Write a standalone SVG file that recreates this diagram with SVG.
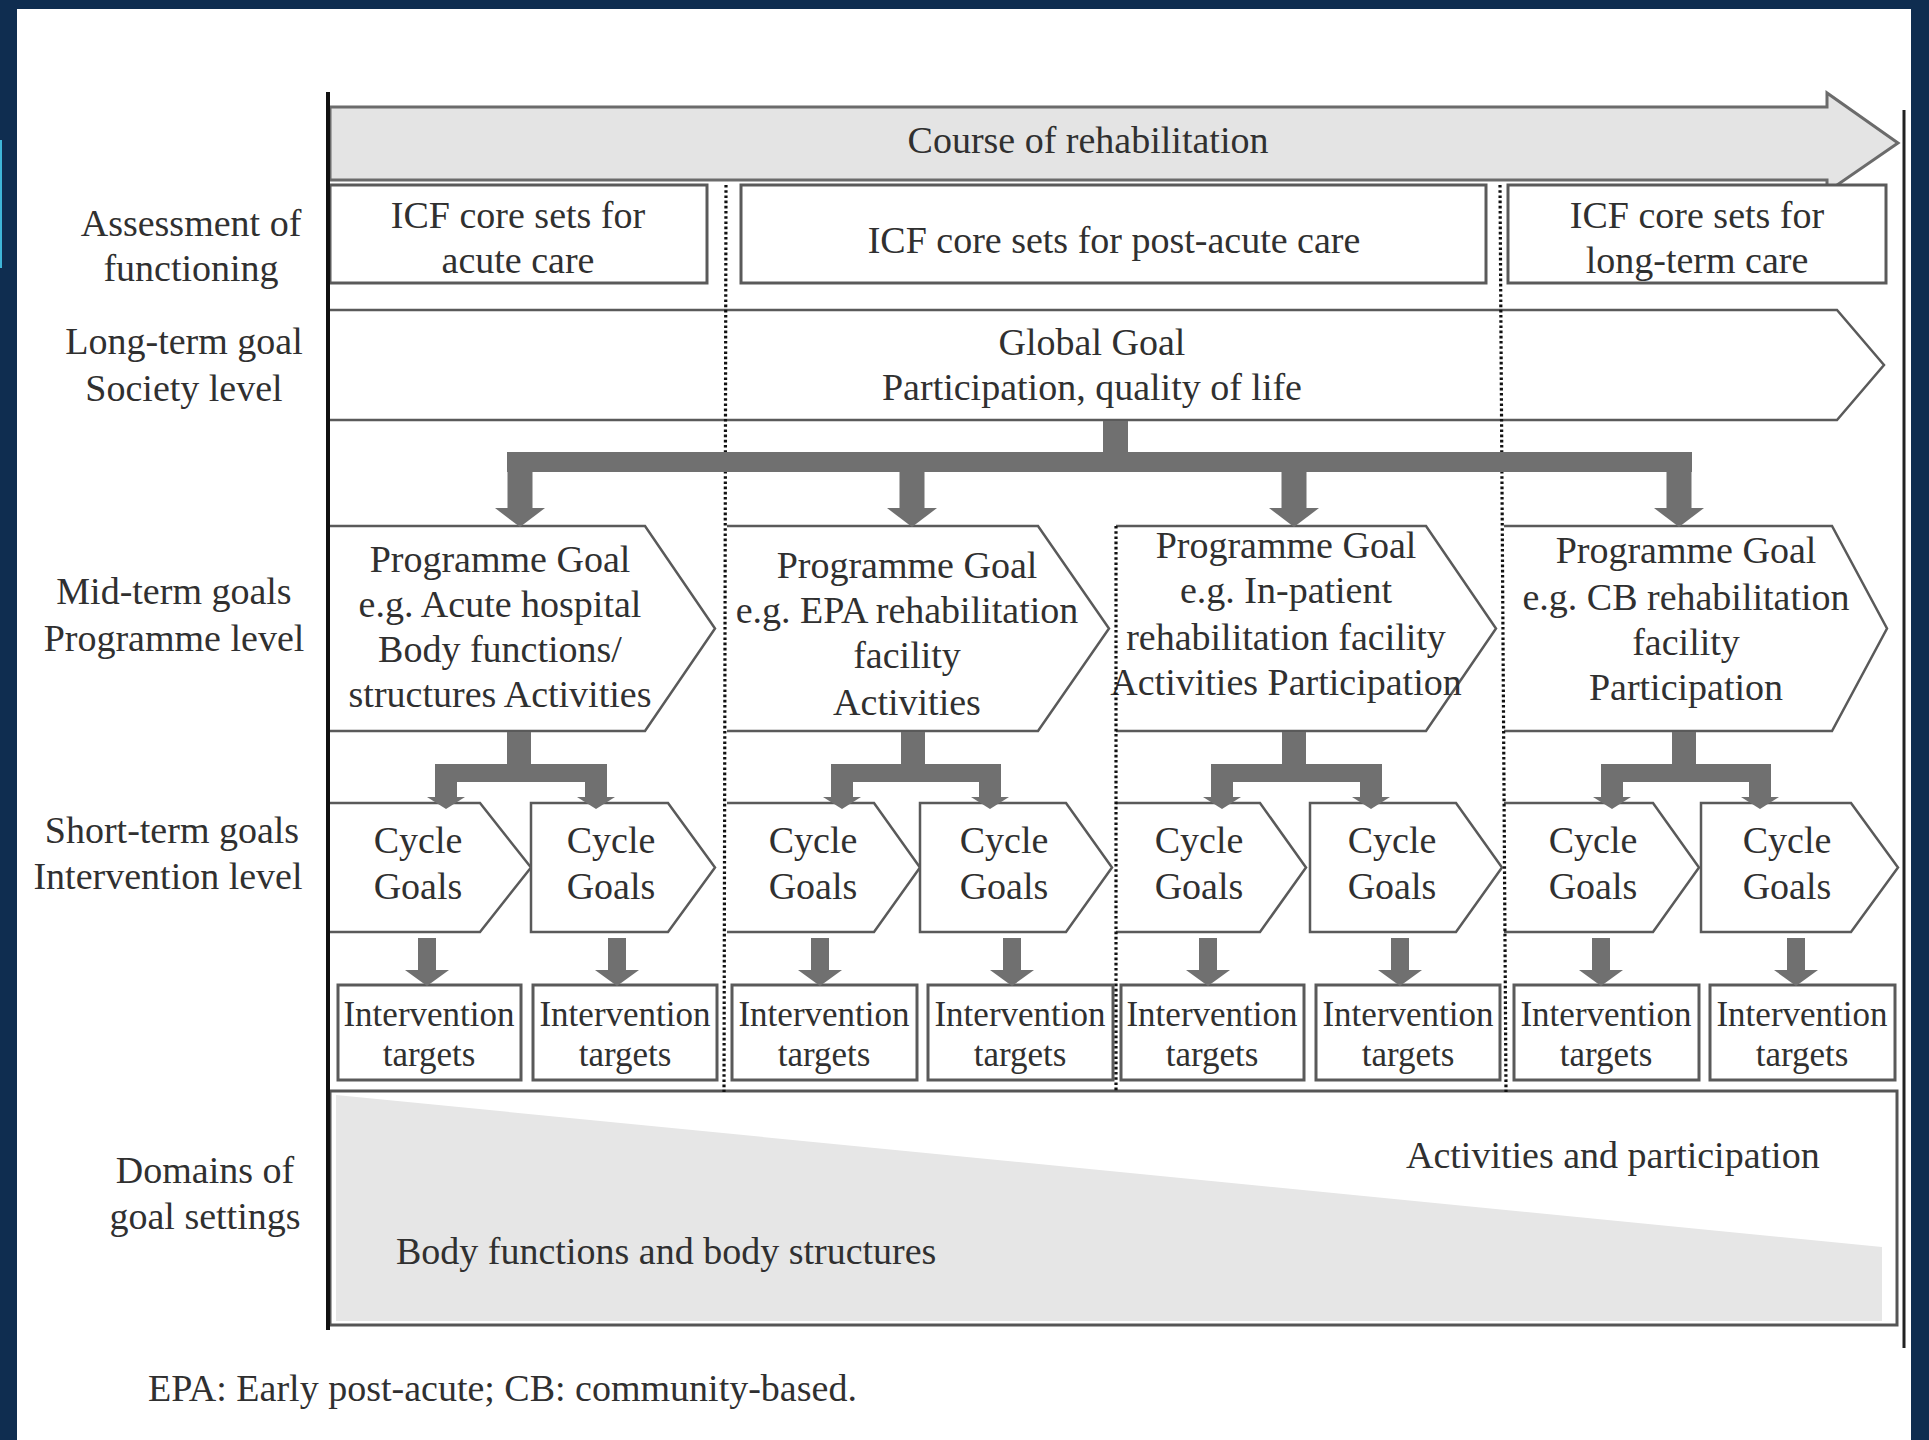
<svg xmlns="http://www.w3.org/2000/svg" width="1929" height="1440" viewBox="0 0 1929 1440">
<defs>
<style>
text { font-family: "Liberation Serif", "Times New Roman", serif; font-size: 38px; fill: #303030; }
.c { text-anchor: middle; }
.box { fill: #fff; stroke: #5a5a5a; stroke-width: 3; }
.open { fill: #fff; stroke: #5a5a5a; stroke-width: 2.5; stroke-linejoin: miter; }
.conn { fill: #707070; }
.dot { stroke: #111; stroke-width: 3.2; stroke-dasharray: 2.6 2.6; fill: none; }
.iv { font-size: 35px; }
</style>
</defs>
<rect x="0" y="0" width="1929" height="1440" fill="#0f2d50"/>
<rect x="17" y="9" width="1894" height="1431" fill="#ffffff"/>
<line x1="1" y1="140" x2="1" y2="268" stroke="#3fb6d8" stroke-width="2"/>

<g id="domains">
<polygon points="336,1095 1882,1247 1882,1321 336,1321" fill="#e6e6e6"/>
<rect x="330" y="1091" width="1567" height="234" fill="none" stroke="#555" stroke-width="3"/>
<text x="1406" y="1168">Activities and participation</text>
<text x="396" y="1264">Body functions and body structures</text>
</g>

<g id="course">
<polygon points="330,107 1827,107 1827,93 1898,143 1827,192 1827,180 330,180" fill="#e4e4e4" stroke="#6b6b6b" stroke-width="3"/>
<text class="c" x="1088" y="153">Course of rehabilitation</text>
</g>

<g id="icf-acute">
<rect class="box" x="330" y="185" width="377" height="98"/>
<text class="c" x="518" y="228">ICF core sets for</text>
<text class="c" x="518" y="273">acute care</text>
</g>
<g id="icf-postacute">
<rect class="box" x="741" y="185" width="745" height="98"/>
<text class="c" x="1114" y="253">ICF core sets for post-acute care</text>
</g>
<g id="icf-longterm">
<rect class="box" x="1508" y="185" width="378" height="98"/>
<text class="c" x="1697" y="228">ICF core sets for</text>
<text class="c" x="1697" y="273">long-term care</text>
</g>

<g id="global-goal">
<path class="open" d="M330,310 H1837 L1884,365 L1837,420 H330"/>
<text class="c" x="1092" y="355">Global Goal</text>
<text class="c" x="1092" y="400">Participation, quality of life</text>
</g>

<g id="pg1">
<path class="open" d="M330,526 H645 L715,628.5 L645,731 H330"/>
<text class="c" x="500" y="572">Programme Goal</text>
<text class="c" x="500" y="617">e.g. Acute hospital</text>
<text class="c" x="500" y="662">Body functions/</text>
<text class="c" x="500" y="707">structures Activities</text>
</g>
<g id="pg2">
<path class="open" d="M727,526 H1038 L1109,628.5 L1038,731 H727"/>
<text class="c" x="907" y="578">Programme Goal</text>
<text class="c" x="907" y="623">e.g. EPA rehabilitation</text>
<text class="c" x="907" y="668">facility</text>
<text class="c" x="907" y="715">Activities</text>
</g>
<g id="pg3">
<path class="open" d="M1116,526 H1426 L1496,628.5 L1426,731 H1116"/>
<text class="c" x="1286" y="558">Programme Goal</text>
<text class="c" x="1286" y="603">e.g. In-patient</text>
<text class="c" x="1286" y="650">rehabilitation facility</text>
<text class="c" x="1286" y="695">Activities Participation</text>
</g>
<g id="pg4">
<path class="open" d="M1504,526 H1832 L1887,628.5 L1832,731 H1504"/>
<text class="c" x="1686" y="563">Programme Goal</text>
<text class="c" x="1686" y="610">e.g. CB rehabilitation</text>
<text class="c" x="1686" y="655">facility</text>
<text class="c" x="1686" y="700">Participation</text>
</g>

<g id="cycle1"><path class="open" d="M330,803 H480 L531,867.5 L480,932 H330"/><text class="c" x="418" y="853">Cycle</text><text class="c" x="418" y="899">Goals</text></g>
<g id="cycle2"><path class="open" d="M531,803 H668 L715,867.5 L668,932 H531 Z"/><text class="c" x="611" y="853">Cycle</text><text class="c" x="611" y="899">Goals</text></g>
<g id="cycle3"><path class="open" d="M727,803 H874 L920,867.5 L874,932 H727"/><text class="c" x="813" y="853">Cycle</text><text class="c" x="813" y="899">Goals</text></g>
<g id="cycle4"><path class="open" d="M920,803 H1066 L1112,867.5 L1066,932 H920 Z"/><text class="c" x="1004" y="853">Cycle</text><text class="c" x="1004" y="899">Goals</text></g>
<g id="cycle5"><path class="open" d="M1116,803 H1260 L1306,867.5 L1260,932 H1116"/><text class="c" x="1199" y="853">Cycle</text><text class="c" x="1199" y="899">Goals</text></g>
<g id="cycle6"><path class="open" d="M1310,803 H1456 L1502,867.5 L1456,932 H1310 Z"/><text class="c" x="1392" y="853">Cycle</text><text class="c" x="1392" y="899">Goals</text></g>
<g id="cycle7"><path class="open" d="M1504,803 H1653 L1699,867.5 L1653,932 H1504"/><text class="c" x="1593" y="853">Cycle</text><text class="c" x="1593" y="899">Goals</text></g>
<g id="cycle8"><path class="open" d="M1701,803 H1851 L1898,867.5 L1851,932 H1701 Z"/><text class="c" x="1787" y="853">Cycle</text><text class="c" x="1787" y="899">Goals</text></g>

<g id="it1"><rect class="box" x="338" y="985" width="183" height="95"/><text class="c iv" x="429" y="1026">Intervention</text><text class="c iv" x="429" y="1066">targets</text></g>
<g id="it2"><rect class="box" x="533" y="985" width="184" height="95"/><text class="c iv" x="625" y="1026">Intervention</text><text class="c iv" x="625" y="1066">targets</text></g>
<g id="it3"><rect class="box" x="732" y="985" width="185" height="95"/><text class="c iv" x="824" y="1026">Intervention</text><text class="c iv" x="824" y="1066">targets</text></g>
<g id="it4"><rect class="box" x="928" y="985" width="185" height="95"/><text class="c iv" x="1020" y="1026">Intervention</text><text class="c iv" x="1020" y="1066">targets</text></g>
<g id="it5"><rect class="box" x="1121" y="985" width="183" height="95"/><text class="c iv" x="1212" y="1026">Intervention</text><text class="c iv" x="1212" y="1066">targets</text></g>
<g id="it6"><rect class="box" x="1316" y="985" width="184" height="95"/><text class="c iv" x="1408" y="1026">Intervention</text><text class="c iv" x="1408" y="1066">targets</text></g>
<g id="it7"><rect class="box" x="1514" y="985" width="185" height="95"/><text class="c iv" x="1606" y="1026">Intervention</text><text class="c iv" x="1606" y="1066">targets</text></g>
<g id="it8"><rect class="box" x="1710" y="985" width="185" height="95"/><text class="c iv" x="1802" y="1026">Intervention</text><text class="c iv" x="1802" y="1066">targets</text></g>

<g id="dividers">
<line class="dot" x1="726" y1="185" x2="724" y2="1092"/>
<line class="dot" x1="1500" y1="185" x2="1506" y2="1092"/>
<line class="dot" x1="1116" y1="526" x2="1116" y2="1092"/>
</g>

<g id="connectors" class="conn">
<rect x="1103" y="421" width="25" height="45"/>
<rect x="507" y="452" width="1185" height="20"/>
<rect x="507.5" y="465" width="25" height="45"/><polygon points="495,508 545,508 520,527"/>
<rect x="899.5" y="465" width="25" height="45"/><polygon points="887,508 937,508 912,527"/>
<rect x="1281.5" y="465" width="25" height="45"/><polygon points="1269,508 1319,508 1294,527"/>
<rect x="1666.5" y="465" width="25" height="45"/><polygon points="1654,508 1704,508 1679,527"/>

<rect x="507" y="732" width="24" height="40"/><rect x="435" y="764" width="172" height="18"/>
<rect x="435" y="775" width="22" height="24"/><polygon points="427,797 465,797 446,809"/>
<rect x="585" y="775" width="22" height="24"/><polygon points="577,797 615,797 596,809"/>

<rect x="901" y="732" width="24" height="40"/><rect x="831" y="764" width="170" height="18"/>
<rect x="831" y="775" width="22" height="24"/><polygon points="823,797 861,797 842,809"/>
<rect x="979" y="775" width="22" height="24"/><polygon points="971,797 1009,797 990,809"/>

<rect x="1282" y="732" width="24" height="40"/><rect x="1211" y="764" width="171" height="18"/>
<rect x="1211" y="775" width="22" height="24"/><polygon points="1203,797 1241,797 1222,809"/>
<rect x="1360" y="775" width="22" height="24"/><polygon points="1352,797 1390,797 1371,809"/>

<rect x="1672" y="732" width="24" height="40"/><rect x="1601" y="764" width="170" height="18"/>
<rect x="1601" y="775" width="22" height="24"/><polygon points="1593,797 1631,797 1612,809"/>
<rect x="1749" y="775" width="22" height="24"/><polygon points="1741,797 1779,797 1760,809"/>

<rect x="418" y="938" width="18" height="34"/><polygon points="405,970 449,970 427,986"/>
<rect x="608" y="938" width="18" height="34"/><polygon points="595,970 639,970 617,986"/>
<rect x="811" y="938" width="18" height="34"/><polygon points="798,970 842,970 820,986"/>
<rect x="1003" y="938" width="18" height="34"/><polygon points="990,970 1034,970 1012,986"/>
<rect x="1199" y="938" width="18" height="34"/><polygon points="1186,970 1230,970 1208,986"/>
<rect x="1391" y="938" width="18" height="34"/><polygon points="1378,970 1422,970 1400,986"/>
<rect x="1592" y="938" width="18" height="34"/><polygon points="1579,970 1623,970 1601,986"/>
<rect x="1787" y="938" width="18" height="34"/><polygon points="1774,970 1818,970 1796,986"/>
</g>

<g id="axes">
<line x1="328" y1="92" x2="328" y2="1330" stroke="#111" stroke-width="4"/>
<line x1="1904" y1="110" x2="1904" y2="1348" stroke="#222" stroke-width="3"/>
</g>

<g id="row-labels">
<text class="c" x="191" y="236">Assessment of</text>
<text class="c" x="191" y="281">functioning</text>
<text class="c" x="184" y="354">Long-term goal</text>
<text class="c" x="184" y="401">Society level</text>
<text class="c" x="174" y="604">Mid-term goals</text>
<text class="c" x="174" y="651">Programme level</text>
<text class="c" x="172" y="843">Short-term goals</text>
<text class="c" x="168" y="889">Intervention level</text>
<text class="c" x="205" y="1183">Domains of</text>
<text class="c" x="205" y="1229">goal settings</text>
</g>

<text x="148" y="1401">EPA: Early post-acute; CB: community-based.</text>
</svg>
